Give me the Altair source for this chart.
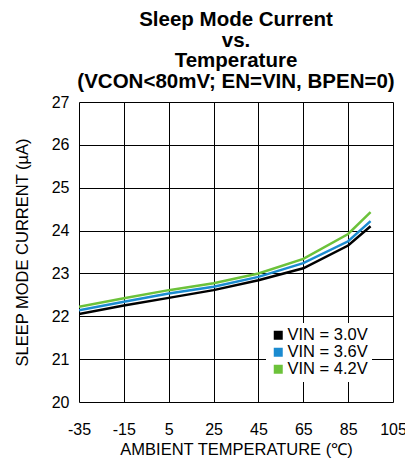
import altair as alt
import pandas as pd

temps = [-35, -15, 5, 25, 45, 65, 85, 95]
vin_30 = [22.05, 22.25, 22.43, 22.61, 22.84, 23.12, 23.65, 24.10]
vin_36 = [22.14, 22.34, 22.53, 22.69, 22.92, 23.24, 23.75, 24.22]
vin_42 = [22.22, 22.42, 22.61, 22.77, 23.00, 23.34, 23.92, 24.43]
series = ["VIN = 3.0V", "VIN = 3.6V", "VIN = 4.2V"]
colors = ["#000000", "#1b8bd0", "#6cc23a"]
x_ticks = [-35, -15, 5, 25, 45, 65, 85, 105]
y_ticks = [20, 21, 22, 23, 24, 25, 26, 27]

rows = []
for name, vals in zip(series, [vin_30, vin_36, vin_42]):
    for t, v in zip(temps, vals):
        rows.append({"temp": t, "current": v, "series": name, "order": series.index(name)})
df = pd.DataFrame(rows)

font = "Liberation Sans"

x_enc = alt.X("temp:Q",
              scale=alt.Scale(domain=[-35, 105], nice=False, zero=False),
              axis=alt.Axis(values=x_ticks, title="AMBIENT TEMPERATURE (\u2103)",
                            labelExpr="'' + datum.value",
                            grid=True, gridColor="#000000", gridWidth=1, gridOpacity=1,
                            ticks=False, domain=False, labelPadding=19,
                            labelFontSize=16, labelFont=font, labelColor="#000000",
                            titleFont=font, titleFontSize=16.5, titleFontWeight="normal",
                            titleColor="#000000", titlePadding=4, labelFlush=False))
y_enc = alt.Y("current:Q",
              scale=alt.Scale(domain=[20, 27], nice=False, zero=False),
              axis=alt.Axis(values=y_ticks, title="SLEEP MODE CURRENT (\u00b5A)",
                            grid=True, gridColor="#000000", gridWidth=1, gridOpacity=1,
                            ticks=False, domain=False, labelPadding=10,
                            labelFontSize=16, labelFont=font, labelColor="#000000",
                            titleFont=font, titleFontSize=16.5, titleFontWeight="normal",
                            titleColor="#000000", titlePadding=21))
color_scale = alt.Scale(domain=series, range=colors)

base = alt.Chart(df)

legend_layer = base.mark_square(filled=True, opacity=0, size=1).encode(
    x=x_enc, y=y_enc,
    color=alt.Color("series:N", scale=color_scale,
                    legend=alt.Legend(title=None, orient="none", legendX=187, legendY=221,
                                      symbolType="square", symbolSize=81,
                                      symbolStrokeWidth=0, symbolOpacity=1,
                                      labelFont=font, labelFontSize=16.5, labelColor="#000000",
                                      rowPadding=-3.5, labelOffset=1,
                                      fillColor="#ffffff", padding=4)),
)

lines = base.mark_line(strokeWidth=2.5, clip=True).encode(
    x=x_enc, y=y_enc,
    color=alt.Color("series:N", scale=color_scale, legend=None),
    order="order:Q",
    detail="series:N",
)

chart = alt.layer(legend_layer, lines).properties(
    width=314, height=300,
    title=alt.Title(["Sleep Mode Current", "vs.", "Temperature", "(VCON<80mV; EN=VIN, BPEN=0)"],
                    font=font, fontSize=20.5, fontWeight="bold", color="#000000",
                    anchor="middle", lineHeight=20.5, offset=2),
    autosize="none",
    padding={"left": 79, "top": 102, "right": 12, "bottom": 57},
).configure_view(
    stroke="#000000", strokeWidth=2.5
).configure(background="#ffffff")

chart.save("out.html", embed_options={"renderer": "svg", "actions": False})
